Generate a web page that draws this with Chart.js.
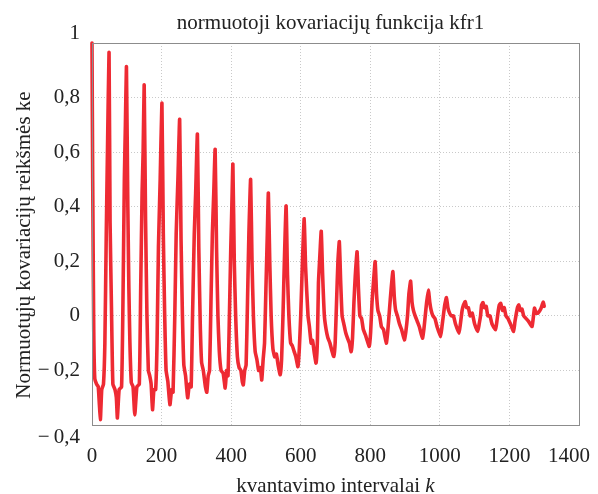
<!DOCTYPE html>
<html>
<head>
<meta charset="utf-8">
<script src="https://cdn.jsdelivr.net/npm/chart.js@4"></script>
<style>
  html, body { margin: 0; padding: 0; background: #fff; }
  #wrap { width: 598px; height: 494px; }
</style>
</head>
<body>
<div id="wrap"><canvas id="graph" width="598" height="494"></canvas></div>
<script>
// Chart data
var chartTitle = 'normuotoji kovariacijų funkcija kfr1';
var yTitle = 'Normuotųjų kovariacijų reikšmės ke';
var xTitle = 'kvantavimo intervalai ';
var xTitleItalic = 'k';

// k (lag) positions and the normalised covariance at each
var kValues = [
    0, 2, 5, 8, 13, 18, 24, 28, 33, 37, 41, 45,
    49, 52, 56, 60, 66, 70, 73, 78, 85, 89, 93, 96,
    99, 103, 106, 109, 113, 118, 123, 129, 136, 140, 144, 147,
    150, 154, 158, 162, 166, 170, 174, 178, 183, 187, 191, 196,
    201, 205, 209, 213, 218, 224, 229, 233, 238, 242, 247,
    252, 256, 260, 264, 269, 275, 280, 285, 289, 294, 298,
    303, 307, 311, 315, 320, 326, 330, 334, 338, 342, 346, 350,
    354, 358, 362, 366, 371, 377, 383, 387, 391, 395, 399, 402,
    405, 409, 413, 418, 423, 428, 432, 435, 439, 443, 447, 451,
    456, 460, 464, 469, 474, 479, 484, 488, 492, 496, 500, 504,
    507, 511, 515, 520, 525, 530, 535, 541, 545, 549, 553,
    558, 562, 566, 571, 576, 581, 586, 592, 596, 600, 605,
    610, 614, 621, 625, 630, 634, 639, 644, 648, 651, 655,
    659, 663, 668, 673, 678, 684, 690, 695, 699, 703, 707,
    711, 715, 719, 724, 729, 734, 740, 745, 749, 753, 757,
    762, 766, 770, 775, 780, 786, 791, 797, 801, 805, 809,
    814, 818, 822, 827, 832, 838, 846, 850, 855, 860,
    865, 869, 873, 878, 884, 890, 898, 902, 907, 911,
    916, 920, 924, 929, 935, 941, 950, 954, 958, 962,
    967, 971, 975, 980, 986, 992, 1002, 1006, 1010, 1014,
    1019, 1023, 1028, 1033, 1039, 1045, 1055, 1059, 1064, 1068,
    1073, 1077, 1082, 1087, 1093, 1100, 1109, 1113, 1117, 1120,
    1124, 1128, 1133, 1138, 1144, 1150, 1160, 1164, 1168, 1171,
    1175, 1180, 1185, 1190, 1196, 1203, 1212, 1216, 1220, 1223,
    1227, 1231, 1236, 1241, 1248, 1255, 1265, 1272, 1277, 1282, 1290, 1297, 1300
];
var keValues = [
    1.0, 0.5, -0.05, -0.23, -0.25, -0.26, -0.38, -0.27, -0.25, -0.1, 0.3, 0.65,
    0.965, 0.34, 0.03, -0.25, -0.27, -0.3, -0.374, -0.27, -0.26, 0.05, 0.5, 0.7,
    0.913, 0.40, 0.1, -0.1, -0.245, -0.26, -0.363, -0.26, -0.25, 0.1, 0.45, 0.6,
    0.846, 0.35, 0.0, -0.2, -0.22, -0.25, -0.344, -0.27, -0.27, -0.1, 0.25, 0.5,
    0.78, 0.3, 0.0, -0.2, -0.24, -0.326, -0.27, -0.28, 0.0, 0.3, 0.5,
    0.72, 0.28, 0.0, -0.18, -0.22, -0.30, -0.25, -0.26, 0.0, 0.3, 0.45,
    0.666, 0.25, -0.02, -0.17, -0.2, -0.26, -0.28, -0.22, -0.2, 0.05, 0.3, 0.45,
    0.61, 0.25, 0.0, -0.13, -0.2, -0.21, -0.265, -0.2, -0.22, 0.0, 0.25, 0.4,
    0.556, 0.2, 0.0, -0.15, -0.19, -0.2, -0.24, -0.253, -0.2, -0.18, 0.05, 0.3,
    0.50, 0.2, 0.0, -0.13, -0.16, -0.2, -0.19, -0.235, -0.16, -0.1, 0.1, 0.3,
    0.45, 0.2, 0.0, -0.12, -0.15, -0.14, -0.18, -0.216, -0.16, 0.0, 0.2,
    0.403, 0.15, 0.0, -0.1, -0.11, -0.13, -0.15, -0.186, -0.12, 0.0, 0.2,
    0.356, 0.18, 0.0, -0.04, -0.1, -0.09, -0.136, -0.173, -0.09, 0.12, 0.22,
    0.31, 0.15, 0.0, -0.05, -0.08, -0.1, -0.13, -0.149, -0.1, 0.05, 0.2,
    0.272, 0.12, 0.0, -0.03, -0.06, -0.08, -0.1, -0.131, -0.08, 0.05, 0.15,
    0.235, 0.1, 0.0, -0.01, -0.05, -0.07, -0.09, -0.112, -0.06, 0.05, 0.12,
    0.199, 0.08, 0.02, 0.0, -0.04, -0.05, -0.10, -0.06, 0.02, 0.1,
    0.162, 0.07, 0.02, 0.0, -0.03, -0.05, -0.088, -0.06, 0.0, 0.08,
    0.127, 0.05, 0.02, 0.0, -0.02, -0.04, -0.082, -0.05, 0.0, 0.05,
    0.095, 0.05, 0.02, 0.0, -0.01, -0.04, -0.076, -0.04, 0.0, 0.04,
    0.067, 0.03, 0.01, 0.0, 0.0, -0.03, -0.064, -0.03, 0.02, 0.04,
    0.052, 0.03, 0.03, 0.0, 0.01, -0.03, -0.057, -0.03, 0.0, 0.04,
    0.049, 0.03, 0.035, 0.0, 0.0, -0.03, -0.051, -0.02, 0.02, 0.04,
    0.046, 0.02, 0.03, 0.0, -0.01, -0.03, -0.057, -0.02, 0.01, 0.03,
    0.04, 0.02, 0.025, 0.0, -0.01, -0.02, -0.039, 0.028, 0.01, 0.01, 0.025, 0.05, 0.035
];

var xMin = 0, xMax = 1400, xStep = 200;
var yMin = -0.4, yMax = 1, yStep = 0.2;

var serif = '"Liberation Serif", "Times New Roman", serif';
var textColor = '#222';
var fontSize = 21;

function yTickLabel(v) {
    var r = Math.round(v * 10) / 10;
    if (r === 0) return '0';
    if (r === 1) return '1';
    var s = Math.abs(r).toFixed(1).replace('.', ',');
    return r < 0 ? '\u2212\u2009' + s : s;
}

// frame, titles and tick labels (end labels kept inside as in the original)
var framePlugin = {
    id: 'frame',
    afterDraw: function (chart) {
        var ctx = chart.ctx, a = chart.chartArea;
        var ys = chart.scales.y, xs = chart.scales.x;
        ctx.save();
        ctx.strokeStyle = '#8c8c8c';
        ctx.lineWidth = 1;
        ctx.strokeRect(Math.round(a.left) + 0.5, Math.round(a.top) + 0.5,
            Math.round(a.right - a.left), Math.round(a.bottom - a.top));

        ctx.fillStyle = textColor;
        ctx.font = fontSize + 'px ' + serif;

        // y tick labels
        ctx.textAlign = 'right';
        ctx.textBaseline = 'middle';
        ys.ticks.forEach(function (t) {
            var py = ys.getPixelForValue(t.value);
            if (Math.abs(t.value - yMax) < 1e-9) py -= 10;
            if (Math.abs(t.value - yMin) < 1e-9) py += 12;
            ctx.fillText(yTickLabel(t.value), a.left - 12, py);
        });

        // x tick labels
        ctx.textAlign = 'left';
        xs.ticks.forEach(function (t) {
            var label = String(t.value);
            var w = ctx.measureText(label).width;
            var px = xs.getPixelForValue(t.value) - w / 2;
            if (px + w > chart.width - 8) px = chart.width - 8 - w;
            ctx.fillText(label, px, a.bottom + 31);
        });

        // chart title
        ctx.textAlign = 'center';
        ctx.textBaseline = 'alphabetic';
        ctx.fillText(chartTitle, (a.left + a.right) / 2 - 5, 29);

        // y title
        ctx.save();
        ctx.translate(30, (a.top + a.bottom) / 2 + 11);
        ctx.rotate(-Math.PI / 2);
        ctx.fillText(yTitle, 0, 0);
        ctx.restore();

        // x title with italic k
        var w1 = ctx.measureText(xTitle).width;
        ctx.font = 'italic ' + fontSize + 'px ' + serif;
        var w2 = ctx.measureText(xTitleItalic).width;
        var x0 = (a.left + a.right) / 2 - (w1 + w2) / 2;
        ctx.textAlign = 'left';
        ctx.font = fontSize + 'px ' + serif;
        ctx.fillText(xTitle, x0, 492);
        ctx.font = 'italic ' + fontSize + 'px ' + serif;
        ctx.fillText(xTitleItalic, x0 + w1, 492);
        ctx.restore();
    }
};

function drawGraph() {
    var points = [];
    for (var i = 0; i < kValues.length; i++) {
        points.push({ x: kValues[i], y: keValues[i] });
    }

    new Chart(document.getElementById('graph'), {
        type: 'line',
        data: {
            datasets: [{
                label: 'kfr1',
                data: points,
                borderColor: '#ee2a33',
                borderWidth: 3.6,
                pointRadius: 0,
                tension: 0.15,
                borderJoinStyle: 'round',
                borderCapStyle: 'round',
                clip: 4
            }]
        },
        options: {
            responsive: false,
            animation: false,
            layout: { padding: { left: 0, right: 0, top: 43, bottom: 0 } },
            plugins: {
                legend: { display: false },
                tooltip: { enabled: false },
                title: { display: false }
            },
            scales: {
                x: {
                    type: 'linear',
                    min: xMin,
                    max: xMax,
                    afterFit: function (scale) {
                        scale.height = 69;
                        scale.paddingRight = 19;
                        scale.paddingLeft = 0;
                    },
                    ticks: {
                        stepSize: xStep,
                        display: false
                    },
                    grid: {
                        color: '#c9c9c9',
                        drawTicks: false
                    },
                    border: { display: false, dash: [1, 2] }
                },
                y: {
                    min: yMin,
                    max: yMax,
                    afterFit: function (scale) { scale.width = 92; },
                    ticks: {
                        stepSize: yStep,
                        display: false
                    },
                    grid: {
                        color: '#c9c9c9',
                        drawTicks: false
                    },
                    border: { display: false, dash: [1, 2] }
                }
            }
        },
        plugins: [framePlugin]
    });
}

window.onload = drawGraph;
</script>
</body>
</html>
